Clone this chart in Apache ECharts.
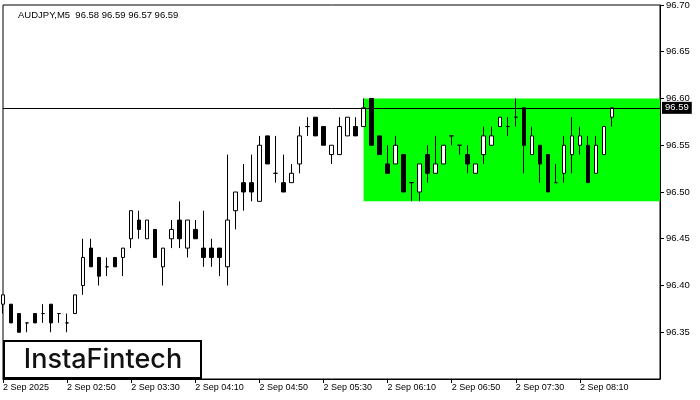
<!DOCTYPE html>
<html>
<head>
<meta charset="utf-8">
<script src="https://cdn.jsdelivr.net/npm/echarts@6/dist/echarts.min.js"></script>
<style>html,body{margin:0;padding:0;background:#fff;}#c{width:700px;height:400px;}</style>
</head>
<body>
<div id="c"></div>
<script>
// ---- data ----
const symbolTitle = 'AUDJPY,M5  96.58 96.59 96.57 96.59';
const tickLabels = ['2 Sep 2025','2 Sep 02:50','2 Sep 03:30','2 Sep 04:10','2 Sep 04:50','2 Sep 05:30','2 Sep 06:10','2 Sep 06:50','2 Sep 07:30','2 Sep 08:10'];
const opens  = [96.38,96.38,96.37,96.36,96.37,96.37,96.38,96.37,96.36,96.37,96.40,96.44,96.43,96.42,96.43,96.43,96.45,96.47,96.45,96.46,96.42,96.45,96.47,96.44,96.46,96.44,96.44,96.44,96.42,96.48,96.51,96.51,96.49,96.56,96.52,96.51,96.51,96.53,96.57,96.58,96.57,96.54,96.54,96.56,96.57,96.57,96.60,96.56,96.53,96.53,96.54,96.51,96.50,96.54,96.52,96.53,96.56,96.55,96.54,96.52,96.54,96.55,96.57,96.57,96.58,96.59,96.54,96.55,96.54,96.51,96.52,96.54,96.55,96.55,96.52,96.54,96.58];
const closes = [96.39,96.36,96.35,96.36,96.36,96.37,96.36,96.37,96.36,96.39,96.43,96.42,96.41,96.42,96.42,96.44,96.48,96.46,96.47,96.43,96.44,96.46,96.45,96.47,96.45,96.43,96.43,96.43,96.47,96.50,96.50,96.50,96.55,96.53,96.52,96.50,96.52,96.56,96.57,96.56,96.55,96.55,96.57,96.58,96.56,96.59,96.55,96.54,96.52,96.55,96.50,96.51,96.53,96.52,96.53,96.55,96.56,96.55,96.53,96.53,96.56,96.56,96.58,96.57,96.58,96.55,96.56,96.53,96.50,96.51,96.55,96.56,96.56,96.51,96.55,96.57,96.59];
const lows   = [96.37,96.36,96.35,96.35,96.36,96.36,96.35,96.36,96.35,96.37,96.39,96.42,96.40,96.41,96.42,96.41,96.44,96.45,96.45,96.43,96.40,96.44,96.44,96.43,96.45,96.42,96.42,96.41,96.40,96.46,96.48,96.49,96.49,96.53,96.51,96.50,96.51,96.52,96.56,96.56,96.55,96.53,96.54,96.56,96.56,96.57,96.55,96.54,96.52,96.53,96.50,96.49,96.49,96.51,96.52,96.53,96.55,96.54,96.52,96.52,96.53,96.55,96.57,96.56,96.57,96.52,96.54,96.51,96.50,96.51,96.51,96.52,96.54,96.51,96.52,96.54,96.57];
const highs  = [96.39,96.38,96.37,96.36,96.37,96.38,96.38,96.37,96.37,96.39,96.45,96.45,96.43,96.43,96.43,96.44,96.48,96.48,96.47,96.46,96.44,96.47,96.49,96.47,96.47,96.48,96.45,96.44,96.54,96.50,96.53,96.54,96.56,96.56,96.56,96.54,96.53,96.57,96.58,96.58,96.57,96.55,96.58,96.58,96.58,96.60,96.60,96.56,96.55,96.56,96.54,96.51,96.53,96.55,96.56,96.55,96.56,96.55,96.55,96.53,96.57,96.57,96.58,96.58,96.60,96.59,96.57,96.55,96.54,96.53,96.56,96.58,96.57,96.56,96.56,96.57,96.59];
const currentPrice = 96.59;
const zoneTop = 96.60;
const zoneBottom = 96.49;
const zoneStartIndex = 45;
const slotCount = 83;         // 5-minute slots on the axis (02:10 .. 09:00)
const firstSlotMinutes = 2 * 60 + 10;

// ---- build ----
const categories = [];
for (let i = 0; i < slotCount; i++) {
  const m = firstSlotMinutes + 5 * i;
  const hh = String(Math.floor(m / 60)).padStart(2, '0');
  const mm = String(m % 60).padStart(2, '0');
  categories.push(hh + ':' + mm);
}
const ohlc = opens.map((o, i) => [o, closes[i], lows[i], highs[i]]);
const showTick = (idx) => idx % 8 === 0 && idx / 8 < tickLabels.length;

const chart = echarts.init(document.getElementById('c'), null, {renderer: 'canvas'});
chart.setOption({
  animation: false,
  backgroundColor: '#fff',
  title: {
    text: symbolTitle, left: 13, top: 5,
    textStyle: {fontSize: 9.5, fontWeight: 'normal', color: '#000', fontFamily: 'Liberation Sans'}
  },
  grid: {left: 3, top: 4, right: 40, bottom: 21, show: true, borderColor: '#000', borderWidth: 1, backgroundColor: 'transparent'},
  xAxis: {
    type: 'category', data: categories, boundaryGap: false,
    axisLine: {lineStyle: {color: '#000', width: 1}},
    axisTick: {show: true, interval: (idx) => showTick(idx), length: 4, lineStyle: {color: '#000'}},
    axisLabel: {
      interval: (idx) => showTick(idx), align: 'left', margin: 4,
      color: '#000', fontSize: 9, fontFamily: 'Liberation Sans',
      formatter: (v, idx) => tickLabels[idx / 8]
    },
    splitLine: {show: false}
  },
  yAxis: {
    type: 'value', position: 'right', min: 96.30, max: 96.70, interval: 0.05,
    axisLine: {show: true, lineStyle: {color: '#000', width: 1}},
    axisTick: {show: true, length: 4, lineStyle: {color: '#000'}},
    axisLabel: {
      margin: 6, color: '#000', fontSize: 9.5, fontFamily: 'Liberation Sans',
      showMinLabel: false,
      formatter: (v) => v.toFixed(2)
    },
    splitLine: {show: false}
  },
  series: [{
    type: 'candlestick',
    data: ohlc,
    barWidth: 4,
    clip: true,
    itemStyle: {color: '#fff', color0: '#000', borderColor: '#000', borderColor0: '#000', borderWidth: 1},
    emphasis: {disabled: true},
    markArea: {
      silent: true,
      itemStyle: {color: '#00ff00', opacity: 1},
      data: [[{xAxis: zoneStartIndex, yAxis: zoneTop}, {xAxis: slotCount - 1, yAxis: zoneBottom}]]
    },
    markLine: {
      silent: true, symbol: ['none', 'none'], animation: false,
      lineStyle: {color: '#000', type: 'solid', width: 1},
      label: {
        show: true, position: 'end', distance: 2,
        formatter: currentPrice.toFixed(2),
        color: '#fff', backgroundColor: '#000', padding: [1, 3, 1, 3],
        fontSize: 9.5, fontFamily: 'Liberation Sans'
      },
      data: [{yAxis: currentPrice}]
    }
  }],
  graphic: [{
    type: 'group', left: 3, top: 340,
    children: [
      {type: 'rect', shape: {x: 1, y: 1, width: 197, height: 37}, style: {fill: '#fff', stroke: '#000', lineWidth: 2}},
      {type: 'text', style: {x: 100, y: 20, text: 'InstaFintech', textAlign: 'center', textVerticalAlign: 'middle', fill: '#111', font: '500 27px Inter'}}
    ]
  }]
});
</script>
</body>
</html>
